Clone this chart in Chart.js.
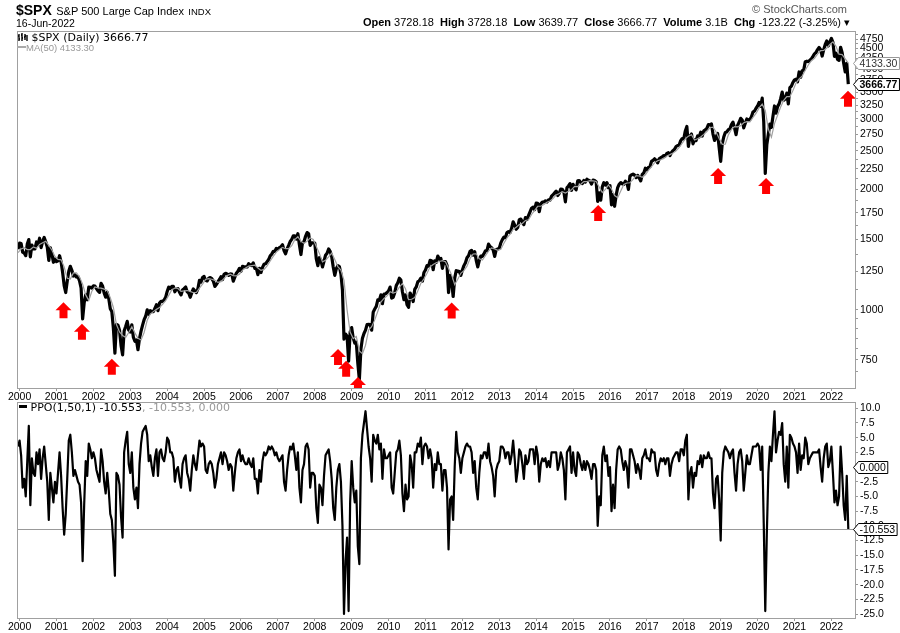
<!DOCTYPE html>
<html>
<head>
<meta charset="utf-8">
<script src="https://cdn.jsdelivr.net/npm/chart.js@4.4.1/dist/chart.umd.min.js"></script>
<style>
  body { margin: 0; background: #fff; width: 900px; height: 633px; position: relative; overflow: hidden; }
  canvas { position: absolute; left: 0; }
  #price { top: 0; }
  #ppo { top: 392px; }
  .t { position: absolute; white-space: nowrap; font-family: "Liberation Sans", Arial, sans-serif; color: #000; }
  .leg { font-family: "DejaVu Sans", Verdana, sans-serif; font-size: 11px; }
</style>
</head>
<body>
<canvas id="price" width="900" height="405"></canvas>
<canvas id="ppo" width="900" height="241"></canvas>

<div class="t" style="left:16px;top:1px;"><b style="font-size:14px">$SPX</b> <span style="font-size:11px">S&amp;P 500 Large Cap Index</span> <span style="font-size:9.5px">INDX</span></div>
<div class="t" style="left:16px;top:17px;font-size:10.5px;">16-Jun-2022</div>
<div class="t" style="right:53px;top:3px;font-size:11px;color:#555;">&copy; StockCharts.com</div>
<div class="t" style="right:50px;top:16px;font-size:11px;"><b>Open</b> 3728.18&nbsp; <b>High</b> 3728.18&nbsp; <b>Low</b> 3639.77&nbsp; <b>Close</b> 3666.77&nbsp; <b>Volume</b> 3.1B&nbsp; <b>Chg</b> -123.22 (-3.25%) &#9662;</div>

<div class="t leg" style="left:18px;top:31px;">
  <svg width="10" height="9" style="vertical-align:-1px"><path d="M1 1v7M0 3h1M1 6h1M4 0v8M3 2h1M4 5h1M7 1v6M6 4h1M7 3h1M9 2v6" stroke="#000" stroke-width="1.4"/></svg> $SPX (Daily) 3666.77
</div>
<div class="t" style="left:17px;top:42px;font-size:9.5px;color:#999;"><span style="display:inline-block;width:9px;height:2px;background:#aaa;vertical-align:3px"></span>MA(50) 4133.30</div>
<div class="t leg" style="left:19px;top:401px;"><span style="display:inline-block;width:8px;height:3px;background:#000;vertical-align:3px"></span> PPO(1,50,1) -10.553<span style="color:#999">, -10.553, 0.000</span></div>

<script>
// half-month samples starting mid-Dec 1999
const startYear = 1999 + 23 / 24;

const spxClose = [
  1418, 1469,
  1465, 1394, 1387, 1366, 1460, 1498, 1357, 1452, 1420, 1420, 1478, 1455, 1510, 1431, 1484, 1517, 1480, 1436, 1329, 1429, 1382, 1315, 1340, 1320,
  1326, 1366, 1318, 1240, 1150, 1105, 1180, 1249, 1285, 1256, 1215, 1224, 1208, 1211, 1181, 1134, 950, 1040, 1090, 1060, 1140, 1139, 1134, 1148,
  1146, 1130, 1116, 1106, 1165, 1147, 1103, 1076, 1106, 1067, 1007, 990, 900, 780, 920, 916, 890, 815, 772, 885, 909, 936, 890, 880,
  918, 855, 835, 841, 795, 848, 885, 916, 945, 964, 1000, 975, 995, 990, 990, 1008, 1030, 996, 1040, 1050, 1050, 1058, 1075, 1112,
  1140, 1131, 1145, 1145, 1110, 1126, 1130, 1107, 1090, 1121, 1130, 1141, 1110, 1102, 1075, 1104, 1128, 1115, 1105, 1130, 1185, 1174, 1205, 1212,
  1185, 1181, 1200, 1204, 1197, 1180, 1145, 1157, 1175, 1191, 1210, 1191, 1227, 1234, 1230, 1220, 1230, 1229, 1180, 1207, 1235, 1249, 1270, 1248,
  1285, 1280, 1280, 1280, 1305, 1295, 1290, 1311, 1270, 1270, 1225, 1270, 1240, 1277, 1300, 1304, 1320, 1336, 1365, 1378, 1400, 1400, 1425, 1418,
  1430, 1438, 1455, 1407, 1380, 1421, 1450, 1482, 1500, 1530, 1530, 1503, 1550, 1455, 1375, 1474, 1480, 1527, 1560, 1549, 1450, 1470, 1470, 1468,
  1340, 1290, 1350, 1330, 1280, 1323, 1370, 1385, 1420, 1400, 1360, 1280, 1220, 1267, 1290, 1283, 1230, 1120, 845, 870, 860, 745, 880, 903,
  850, 826, 830, 735, 670, 798, 850, 873, 890, 919, 920, 919, 890, 987, 1005, 1020, 1060, 1057, 1090, 1036, 1095, 1096, 1105, 1115,
  1140, 1070, 1075, 1104, 1150, 1169, 1200, 1187, 1110, 1060, 1090, 1030, 1015, 1102, 1080, 1049, 1125, 1141, 1175, 1183, 1200, 1180, 1240, 1258,
  1290, 1286, 1330, 1327, 1260, 1326, 1315, 1363, 1340, 1345, 1270, 1321, 1320, 1292, 1105, 1219, 1180, 1080, 1200, 1253, 1250, 1247, 1220, 1258,
  1290, 1312, 1350, 1366, 1400, 1408, 1370, 1398, 1330, 1280, 1330, 1362, 1360, 1380, 1405, 1406, 1460, 1440, 1430, 1412, 1360, 1416, 1420, 1426,
  1470, 1498, 1520, 1515, 1560, 1569, 1560, 1598, 1660, 1631, 1590, 1606, 1680, 1686, 1660, 1633, 1700, 1682, 1720, 1757, 1795, 1806, 1780, 1848,
  1845, 1760, 1840, 1859, 1860, 1872, 1860, 1884, 1880, 1924, 1940, 1960, 1980, 1931, 1955, 2003, 2000, 1972, 1862, 2018, 2040, 2068, 1990, 2059,
  2020, 1995, 2100, 2105, 2080, 2068, 2105, 2086, 2120, 2107, 2100, 2063, 2110, 2104, 2090, 1867, 1960, 1880, 2030, 2079, 2050, 2080, 2020, 2044,
  1830, 1940, 1815, 1932, 2020, 2060, 2080, 2065, 2060, 2097, 2075, 2000, 2160, 2174, 2185, 2171, 2140, 2168, 2135, 2100, 2180, 2199, 2260, 2239,
  2270, 2279, 2350, 2364, 2385, 2363, 2330, 2384, 2400, 2412, 2430, 2423, 2460, 2470, 2430, 2472, 2500, 2519, 2560, 2575, 2580, 2648, 2680, 2674,
  2800, 2872, 2560, 2714, 2750, 2600, 2660, 2648, 2720, 2705, 2780, 2718, 2800, 2816, 2840, 2902, 2900, 2914, 2750, 2650, 2700, 2760, 2545, 2351,
  2600, 2704, 2775, 2784, 2820, 2834, 2905, 2946, 2850, 2740, 2890, 2942, 3010, 2980, 2850, 2926, 3000, 2977, 2990, 3038, 3120, 3141, 3190, 3231,
  3300, 3225, 3380, 2954, 2192, 2585, 2750, 2912, 2860, 3044, 3232, 3100, 3220, 3271, 3370, 3500, 3340, 3363, 3480, 3270, 3590, 3622, 3700, 3756,
  3770, 3714, 3930, 3811, 3960, 3973, 4170, 4181, 4170, 4204, 4240, 4298, 4360, 4395, 4470, 4523, 4470, 4308, 4470, 4605, 4700, 4567, 4670, 4766,
  4660, 4300, 4380, 4225, 4200, 4530, 4390, 4132, 3930, 4132, 3666.77
];

// 50-day average, one value per mid-month
const ma50 = [
  1390,
  1420, 1430, 1415, 1415, 1437, 1425, 1457, 1472, 1484, 1449, 1411, 1359,
  1337, 1334, 1280, 1199, 1194, 1237, 1238, 1208, 1160, 1090, 1056, 1113,
  1141, 1135, 1133, 1127, 1119, 1072, 1014, 919, 881, 863, 854, 878,
  907, 876, 849, 841, 878, 942, 976, 990, 1003, 1013, 1033, 1055,
  1087, 1121, 1134, 1131, 1113, 1116, 1118, 1112, 1104, 1105, 1133, 1160,
  1192, 1197, 1193, 1185, 1171, 1176, 1199, 1218, 1228, 1218, 1216, 1228,
  1257, 1273, 1286, 1290, 1294, 1273, 1255, 1262, 1288, 1325, 1360, 1394,
  1415, 1433, 1422, 1423, 1447, 1498, 1523, 1483, 1467, 1483, 1513, 1500,
  1440, 1384, 1318, 1331, 1356, 1387, 1336, 1283, 1258, 1185, 1000, 880,
  848, 858, 790, 777, 816, 890, 908, 944, 992, 1046, 1068, 1084,
  1110, 1101, 1108, 1140, 1163, 1129, 1061, 1063, 1074, 1114, 1165, 1196,
  1234, 1281, 1299, 1312, 1321, 1327, 1319, 1270, 1223, 1157, 1193, 1234,
  1253, 1286, 1344, 1379, 1381, 1342, 1332, 1367, 1402, 1428, 1420, 1408,
  1418, 1467, 1513, 1545, 1589, 1608, 1633, 1644, 1672, 1679, 1731, 1772,
  1815, 1815, 1833, 1858, 1871, 1898, 1937, 1953, 1974, 1958, 1978, 1996,
  2035, 2033, 2060, 2092, 2092, 2104, 2100, 2093, 2026, 1965, 2000, 2052,
  2005, 1930, 1907, 1981, 2057, 2075, 2078, 2119, 2166, 2160, 2145, 2175,
  2230, 2280, 2330, 2358, 2372, 2391, 2425, 2443, 2466, 2496, 2547, 2609,
  2676, 2717, 2739, 2657, 2676, 2703, 2745, 2791, 2852, 2861, 2783, 2681,
  2591, 2595, 2737, 2824, 2871, 2867, 2886, 2934, 2953, 2949, 3025, 3096,
  3196, 3265, 3150, 2830, 2700, 2920, 3065, 3212, 3340, 3411, 3409, 3532,
  3688, 3774, 3837, 3969, 4091, 4193, 4254, 4353, 4444, 4448, 4511, 4602,
  4673, 4555, 4353, 4345, 4236, 4133.30
];

// PPO(1,50,1), half-month samples like spxClose
const ppo = [
  3.5, 4.5,
  2.0, -3.5, -2.0, -5.0, 1.0, 7.0, -6.5, 1.5, -1.0, -1.5, 2.5, 0.5, 3.0, -2.0, 1.5, 3.5, 0.5, -2.5, -9.0, -1.0, -3.5, -6.0, -2.5, -4.5,
  -1.0, 2.5, -1.5, -7.0, -11.5, -8.0, -2.0, 4.5, 5.5, 2.5, -1.5, -0.5, -1.5, -2.5, -3.0, -6.0, -16.0, -6.5, 1.0, -1.5, 4.0, 3.0, 1.5, 2.5,
  1.5, -0.5, -1.5, -2.5, 3.0, 1.0, -2.5, -4.5, -1.0, -4.0, -8.0, -9.0, -13.0, -18.5, -1.0, -1.5, -3.0, -8.5, -12.0, 2.5, 4.5, 6.0, 0.5, -1.0,
  2.5, -3.5, -5.5, -3.5, -7.0, 0.5, 4.0, 6.0, 6.5, 7.0, 5.5, 1.0, 2.0, 0.0, -1.5, 1.5, 3.0, -1.5, 2.5, 3.0, 1.5, 1.0, 2.5, 5.0,
  4.5, 2.5, 2.5, 1.5, -2.5, -0.5, 0.0, -2.0, -3.5, 0.5, 1.5, 2.0, -1.0, -2.0, -4.0, -0.5, 2.0, 0.5, -0.5, 2.0, 4.5, 3.5, 4.0, 3.5,
  -0.5, -1.0, 0.5, 1.0, 0.5, -1.0, -3.5, -2.0, 0.5, 1.5, 2.5, 0.5, 2.5, 2.0, 1.0, -0.5, 0.5, 0.0, -4.0, -1.0, 1.5, 2.5, 3.0, 1.0,
  2.0, 1.0, 0.5, 0.5, 1.5, 0.5, 0.0, 1.5, -2.0, -2.0, -4.5, -0.5, -2.5, 1.0, 2.5, 2.0, 2.5, 3.5, 3.0, 3.5, 3.0, 2.0, 2.5, 1.5,
  1.0, 1.5, 2.0, -2.5, -4.0, -0.5, 2.0, 3.5, 3.0, 4.0, 2.0, -0.5, 2.5, -3.5, -6.0, -0.5, 0.5, 3.5, 4.0, 3.0, -3.5, -1.0, -1.0, -1.5,
  -7.0, -9.5, -3.0, -3.5, -6.5, -1.5, 2.0, 2.5, 3.0, 1.0, -2.0, -7.0, -9.0, -3.5, -0.5, 0.5, -2.5, -10.0, -25.0, -16.0, -12.0, -24.5, -6.0, 1.0,
  -3.5, -6.0, -4.0, -13.5, -16.5, 1.5, 5.5, 7.5, 9.5, 6.5, 3.5, 1.5, -2.5, 5.5, 4.5, 4.0, 5.5, 3.0, 4.0, -2.0, 3.0, 1.5, 1.5, 2.0,
  2.5, -3.5, -4.5, -1.0, 2.5, 3.0, 4.5, 2.0, -4.5, -7.5, -3.0, -5.5, -5.0, 2.0, 0.5, -3.5, 2.5, 2.5, 4.0, 3.5, 5.0, 0.5, 3.5, 4.0,
  3.5, 1.5, 3.0, 1.5, -3.5, 0.5, -0.5, 2.5, 0.5, 0.5, -4.0, -0.5, -0.5, -3.5, -14.0, -5.5, -5.0, -9.0, 0.0, 6.0, 2.5, 1.5, -1.0, 1.5,
  2.5, 3.5, 4.0, 3.5, 3.5, 2.5, -1.0, 1.0, -3.5, -5.5, -1.0, 2.0, 1.5, 2.5, 2.5, 1.5, 4.0, 1.0, 0.0, -1.5, -5.0, -0.5, 0.5, 1.0,
  3.5, 3.5, 3.0, 1.5, 2.5, 2.5, 0.5, 2.0, 4.5, 1.5, -2.5, -0.5, 3.0, 2.5, 0.5, -2.0, 2.0, 0.5, 1.0, 3.0, 3.0, 3.0, 0.5, 3.5,
  2.0, -2.5, 0.5, 1.5, 1.0, 1.5, 0.0, 1.0, 0.0, 2.5, 2.5, 2.5, 2.5, -0.5, 0.5, 2.5, 1.5, -0.5, -5.5, 2.5, 3.0, 3.5, -1.0, 2.5,
  -0.5, -1.5, 2.5, 2.0, 0.5, -0.5, 1.0, -0.5, 1.0, 0.5, -0.5, -2.0, 0.5, 0.5, -0.5, -10.0, -5.0, -6.5, 2.0, 3.5, 1.0, 2.0, -1.5, 0.0,
  -7.5, -3.0, -7.0, -0.5, 3.0, 3.5, 3.0, 1.0, -0.5, 1.0, 0.0, -3.5, 3.0, 3.0, 2.0, 1.0, -1.0, 0.5, -0.5, -2.0, 1.5, 2.0, 3.0, 1.5,
  1.5, 1.0, 3.0, 2.5, 2.5, -0.5, -1.5, 0.5, 1.5, 1.0, 1.5, 0.5, 1.5, 1.5, -1.5, 0.5, 1.5, 2.0, 2.5, 2.5, 1.0, 3.0, 3.0, 2.0,
  4.5, 5.5, -5.5, -1.0, 0.0, -3.5, -1.0, -1.5, 1.0, 0.5, 2.0, 0.0, 2.0, 1.5, 1.5, 2.5, 1.5, 1.5, -4.5, -7.0, -2.0, -1.5, -5.5, -12.5,
  -1.0, 2.5, 3.5, 3.0, 2.5, 1.5, 2.5, 3.0, -1.0, -4.0, 0.5, 2.5, 3.0, 1.0, -4.0, -1.0, 2.0, 0.5, 0.5, 2.0, 3.5, 3.5, 3.5, 4.0,
  3.5, -0.5, 3.5, -9.5, -24.5, -11.5, -1.0, 3.5, 1.0, 5.5, 9.5, 2.5, 4.5, 6.0, 5.5, 7.5, 0.5, -2.5, 3.5, -3.5, 5.5, 5.0, 4.0, 3.5,
  2.5, -1.0, 4.0, -0.5, 2.0, 1.5, 5.0, 4.0, 0.5, 1.5, 2.0, 2.5, 2.5, 2.5, 2.5, 3.0, 0.0, -2.5, 1.5, 3.5, 4.0, 0.0, 1.0, 3.5,
  -1.0, -6.0, -4.0, -6.5, -5.0, 3.5, -1.0, -6.5, -9.0, -1.5, -10.553
];
const ppoSignal = 0.000;

const yearTicks = [2000, 2001, 2002, 2003, 2004, 2005, 2006, 2007, 2008, 2009, 2010,
  2011, 2012, 2013, 2014, 2015, 2016, 2017, 2018, 2019, 2020, 2021, 2022];
const priceTicks = [750, 1000, 1250, 1500, 1750, 2000, 2250, 2500, 2750, 3000, 3250, 3500, 3750, 4000, 4250, 4500, 4750];
const priceMinorTicks = [700, 800, 850, 900, 950, 1125, 1375, 1625, 1875, 2125, 2375, 2625, 2875, 3125, 3375, 3625, 3875, 4125, 4375, 4625, 4875];
const ppoTicks = [10, 7.5, 5, 2.5, 0, -2.5, -5, -7.5, -10, -12.5, -15, -17.5, -20, -22.5, -25];

// red arrows under the marked lows: [year, price at arrow tip]
const arrowYears = [2001.19, 2001.69, 2002.50, 2008.63, 2008.85, 2009.17, 2011.71, 2015.68, 2018.93, 2020.23, 2022.45];
const arrowPrices = [1045, 923, 755, 799, 746, 680, 1043, 1829, 2262, 2135, 3530];

const xMin = 1999.93, xMax = 2022.64;
const tickFont = {family: 'Liberation Sans, Arial, sans-serif', size: 10.5};

const spxPoints = spxClose.map((v, i) => ({x: startYear + i / 24, y: v}));
const maPoints = ma50.map((v, i) => ({x: startYear + i / 12, y: v}));
const ppoPoints = ppo.map((v, i) => ({x: startYear + i / 24, y: v}));

function frame(chart) {
  const {ctx, chartArea: a} = chart;
  ctx.save();
  ctx.strokeStyle = '#a0a0a0';
  ctx.lineWidth = 1;
  ctx.strokeRect(Math.round(a.left) + 0.5, Math.round(a.top) + 0.5, Math.round(a.right - a.left), Math.round(a.bottom - a.top));
  ctx.restore();
}

function valueBox(chart, value, text, opt) {
  const {ctx, chartArea: a, scales: {y}} = chart;
  const yc = Math.round(y.getPixelForValue(value)) + 0.5;
  const x0 = Math.round(a.right) - 1.5;
  ctx.save();
  ctx.font = (opt.bold ? 'bold ' : '') + '10.5px Liberation Sans, Arial, sans-serif';
  const w = ctx.measureText(text).width + 3;
  ctx.beginPath();
  ctx.moveTo(x0, yc);
  ctx.lineTo(x0 + 5, yc - 6);
  ctx.lineTo(x0 + 5 + w, yc - 6);
  ctx.lineTo(x0 + 5 + w, yc + 6);
  ctx.lineTo(x0 + 5, yc + 6);
  ctx.closePath();
  ctx.fillStyle = '#fff';
  ctx.fill();
  ctx.strokeStyle = opt.border;
  ctx.stroke();
  ctx.fillStyle = opt.color;
  ctx.textBaseline = 'middle';
  ctx.fillText(text, x0 + 6, yc + 0.5);
  ctx.restore();
}

const pricePanel = {
  id: 'pricePanel',
  afterDatasetsDraw(chart) {
    const {ctx, chartArea: a, scales: {x, y}} = chart;
    ctx.save();
    ctx.beginPath();
    ctx.rect(a.left, a.top, a.right - a.left, a.bottom - a.top);
    ctx.clip();
    ctx.fillStyle = '#ff0000';
    arrowYears.forEach((yr, i) => {
      const cx = x.getPixelForValue(yr);
      const top = y.getPixelForValue(arrowPrices[i]);
      ctx.beginPath();
      ctx.moveTo(cx, top);
      ctx.lineTo(cx + 8, top + 8);
      ctx.lineTo(cx + 4, top + 8);
      ctx.lineTo(cx + 4, top + 16);
      ctx.lineTo(cx - 4, top + 16);
      ctx.lineTo(cx - 4, top + 8);
      ctx.lineTo(cx - 8, top + 8);
      ctx.closePath();
      ctx.fill();
    });
    ctx.restore();
  },
  afterDraw(chart) {
    frame(chart);
    valueBox(chart, ma50[ma50.length - 1], ma50[ma50.length - 1].toFixed(2), {border: '#999', color: '#333'});
    valueBox(chart, spxClose[spxClose.length - 1], spxClose[spxClose.length - 1].toFixed(2), {border: '#000', color: '#000', bold: true});
  }
};

const ppoPanel = {
  id: 'ppoPanel',
  beforeDatasetsDraw(chart) {
    const {ctx, chartArea: a, scales: {y}} = chart;
    const yy = Math.round(y.getPixelForValue(ppo[ppo.length - 1])) + 0.5;
    ctx.save();
    ctx.strokeStyle = '#999';
    ctx.lineWidth = 1;
    ctx.beginPath();
    ctx.moveTo(a.left, yy);
    ctx.lineTo(a.right, yy);
    ctx.stroke();
    ctx.restore();
  },
  afterDraw(chart) {
    frame(chart);
    valueBox(chart, ppoSignal, ppoSignal.toFixed(3), {border: '#000', color: '#000'});
    valueBox(chart, ppo[ppo.length - 1], ppo[ppo.length - 1].toFixed(3), {border: '#000', color: '#000'});
  }
};

function xScale(h) {
  return {
    type: 'linear', min: xMin, max: xMax,
    afterBuildTicks: s => { s.ticks = yearTicks.map(v => ({value: v})); },
    afterFit: s => { s.height = h; },
    grid: {display: true, drawOnChartArea: false, drawTicks: true, tickLength: 3, color: '#999'},
    border: {display: false},
    ticks: {font: tickFont, color: '#000', padding: 0, maxRotation: 0, autoSkip: false, callback: v => String(v)}
  };
}

new Chart(document.getElementById('price'), {
  type: 'line',
  data: {
    datasets: [
      {label: 'MA(50)', data: maPoints, borderColor: '#a0a0a0', borderWidth: 1.2, pointRadius: 0, order: 0},
      {label: '$SPX (Daily)', data: spxPoints, borderColor: '#000', borderWidth: 3.2, pointRadius: 0, borderJoinStyle: 'round', order: 1}
    ]
  },
  options: {
    responsive: false,
    animation: false,
    layout: {padding: {left: 17, top: 31, right: 0, bottom: 0}},
    plugins: {legend: {display: false}, tooltip: {enabled: false}},
    scales: {
      x: xScale(17),
      y: {
        type: 'logarithmic', position: 'right', min: 638, max: 4975,
        afterBuildTicks: s => { s.ticks = priceTicks.concat(priceMinorTicks).sort((a, b) => a - b).map(v => ({value: v})); },
        afterFit: s => { s.width = 45; },
        grid: {display: true, drawOnChartArea: false, drawTicks: true, tickLength: 3, color: '#999'},
        border: {display: false},
        ticks: {font: tickFont, color: '#000', padding: 2, autoSkip: false, callback: v => priceTicks.includes(v) ? String(v) : ''}
      }
    }
  },
  plugins: [pricePanel]
});

new Chart(document.getElementById('ppo'), {
  type: 'line',
  data: {
    datasets: [
      {label: 'PPO(1,50,1)', data: ppoPoints, borderColor: '#000', borderWidth: 2.2, pointRadius: 0, borderJoinStyle: 'round'}
    ]
  },
  options: {
    responsive: false,
    animation: false,
    layout: {padding: {left: 17, top: 10, right: 0, bottom: 0}},
    plugins: {legend: {display: false}, tooltip: {enabled: false}},
    scales: {
      x: xScale(15),
      y: {
        type: 'linear', position: 'right', min: -25.68, max: 11.07,
        afterBuildTicks: s => { s.ticks = ppoTicks.map(v => ({value: v})); },
        afterFit: s => { s.width = 45; },
        grid: {display: true, drawOnChartArea: false, drawTicks: true, tickLength: 3, color: '#999'},
        border: {display: false},
        ticks: {font: tickFont, color: '#000', padding: 2, autoSkip: false, callback: v => v.toFixed(1)}
      }
    }
  },
  plugins: [ppoPanel]
});
</script>
</body>
</html>
